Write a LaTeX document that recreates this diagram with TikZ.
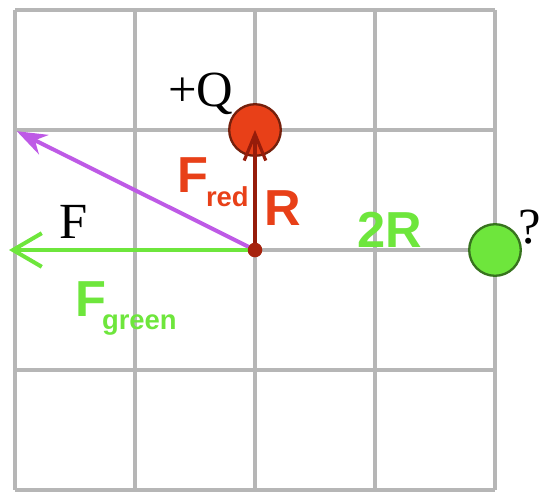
\documentclass[tikz,border=0pt]{standalone}
\usepackage{fontspec}
\setmainfont{Liberation Serif}
\setsansfont{Liberation Sans}
\usetikzlibrary{arrows.meta}
\definecolor{rojo}{RGB}{232,64,24}
\definecolor{granate}{RGB}{150,28,10}
\definecolor{verde}{RGB}{110,230,60}
\definecolor{violeta}{RGB}{190,90,230}
\definecolor{rejillagris}{RGB}{182,182,182}
\newcommand{\subtxt}[2]{\raisebox{#1}{\fontsize{13}{13}\selectfont #2}}
\begin{document}
\begin{tikzpicture}[
  rejilla/.style={draw=rejillagris, line width=1.9pt},
  carga/.style={circle, draw=#1!50!black, fill=#1, line width=1.1pt, minimum size=8.6mm, inner sep=0pt},
  serif/.style={font=\fontsize{24}{24}\selectfont, text=black},
  etiq/.style={font=\sffamily\bfseries\fontsize{24}{24}\selectfont, text=#1}
]
\useasboundingbox (-0.25,-0.05) rectangle (8.767,8.167);
\draw[rejilla] (0,0) grid[step=2] (8,8);
% cargas
\node[carga=rojo] (q) at (4,6) {};
\node[carga=verde] (t) at (8,4) {};
\node[circle, fill=granate!80!rojo, minimum size=2.4mm, inner sep=0pt] (o) at (4,4) {};
\coordinate (fres) at (0.03,5.98);
\coordinate (fgrn) at (-0.1,4);
% fuerzas
\draw[violeta, line width=1.9pt, -{Stealth[length=5mm,width=3.6mm]}] (o.center) -- (fres);
\draw[verde, line width=1.9pt, -{Straight Barb[length=4.8mm,width=5.6mm]}] (o.center) -- (fgrn);
\draw[granate, line width=1.5pt, -{Straight Barb[length=4.4mm,width=3.6mm]}] (o.center) -- (q.center);
\node[circle, fill=granate!80!rojo, minimum size=2.4mm, inner sep=0pt] at (o) {};
% etiquetas
\node[serif] (lq) at (3.1,6.6) {+Q};
\node[serif] (lf) at (0.97,4.47) {F};
\node[serif] (lt) at (8.58,4.38) {?};
\node[etiq=rojo] (fr) at (3.3,5.13) {F\kern-1pt\subtxt{-6.5pt}{red}};
\node[etiq=rojo] (r) at (4.47,4.70) {R};
\node[etiq=verde] (dr) at (6.25,4.33) {2R};
\node[etiq=verde] (fg) at (1.85,3.02) {F\kern-2pt\subtxt{-6pt}{green}};
\end{tikzpicture}
\end{document}
